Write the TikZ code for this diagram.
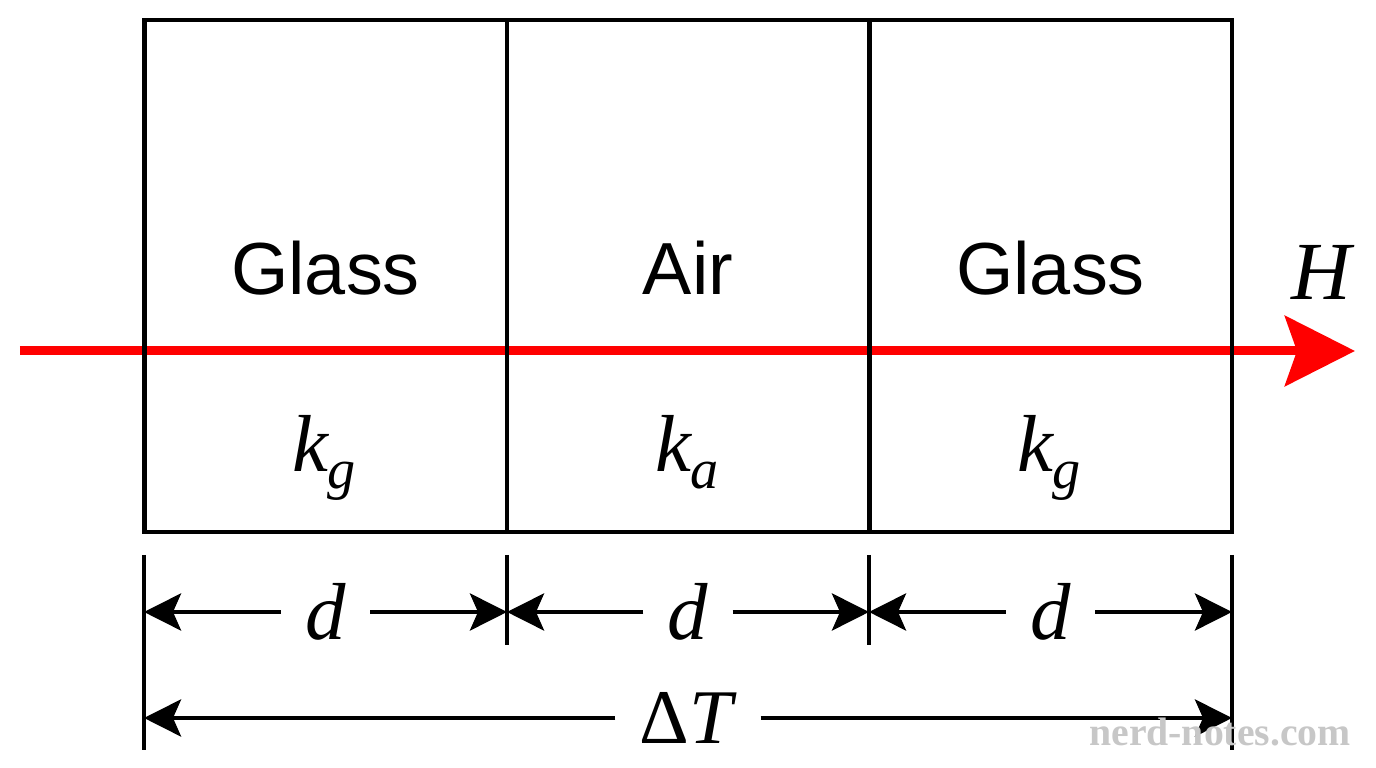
\documentclass[tikz,border=0pt]{standalone}
\usepackage{fontspec}
\setmainfont{Liberation Sans}
\newfontfamily\tnr{Liberation Serif}
\usetikzlibrary{arrows.meta}
\tikzset{
  cell/.style={rectangle,draw,line width=0.045cm,minimum width=3.625cm,minimum height=5.12cm,inner sep=0pt},
  matlabel/.style={anchor=base,inner sep=0pt,font=\fontsize{21}{24}\selectfont},
  varlabel/.style={anchor=base,inner sep=0pt,font=\tnr\itshape\fontsize{23}{26}\selectfont},
  dimlabel/.style={inner sep=0pt,minimum width=0.88cm,font=\tnr\itshape\fontsize{23}{26}\selectfont},
  tick/.style={line width=0.045cm},
  dim/.style={line width=0.045cm,-{Stealth[length=0.37cm,width=0.37cm,inset=0.08cm]}},
  heat/.style={red,line width=0.09cm,-{Stealth[length=0.70cm,width=0.70cm,inset=0.12cm]}},
  wmtext/.style={inner sep=0pt,text=black!22,font=\tnr\bfseries\fontsize{11.3}{13}\selectfont}
}
\newcommand{\subg}[1]{\raisebox{-4.6pt}{\fontsize{16}{16}\selectfont #1}}
\begin{document}
\begin{tikzpicture}
    \useasboundingbox (0,0) rectangle (13.76,7.68);

    % heat flow
    \coordinate (hin) at (0.20,4.17);
    \coordinate (hout) at (13.55,4.17);
    \draw[heat] (hin)--(hout);
    \node at (13.21,4.68) [varlabel,font=\tnr\itshape\fontsize{23.5}{26}\selectfont] (hlab) {H};

    % the three layers
    \node at (3.255,4.92) [cell] (c100) {};
    \node at (6.88,4.92) [cell] (c200) {};
    \node at (10.505,4.92) [cell] (c300) {};

    \node at (3.255,4.73) [matlabel] (m100) {Glass};
    \node at (6.88,4.73) [matlabel] (m200) {Air};
    \node at (10.505,4.73) [matlabel] (m300) {Glass};

    \node at (3.24,2.96) [varlabel] (k100) {k\subg{g}};
    \node at (6.87,2.96) [varlabel] (k200) {k\subg{a}};
    \node at (10.49,2.96) [varlabel] (k300) {k\subg{g}};

    % dimension ticks
    \coordinate (t100) at (1.44,2.13);
    \coordinate (t200) at (5.07,2.13);
    \coordinate (t300) at (8.69,2.13);
    \coordinate (t400) at (12.32,2.13);
    \coordinate (b100) at (1.44,0.18);
    \coordinate (b200) at (5.07,1.23);
    \coordinate (b300) at (8.69,1.23);
    \coordinate (b400) at (12.32,0.18);
    \draw[tick] (t100)--(b100);
    \draw[tick] (t200)--(b200);
    \draw[tick] (t300)--(b300);
    \draw[tick] (t400)--(b400);

    % thickness of each layer
    \coordinate (a100) at (1.44,1.56);
    \coordinate (a200) at (5.07,1.56);
    \coordinate (a300) at (8.69,1.56);
    \coordinate (a400) at (12.32,1.56);
    \node at (3.255,1.56) [dimlabel] (d100) {d};
    \node at (6.88,1.56) [dimlabel] (d200) {d};
    \node at (10.505,1.56) [dimlabel] (d300) {d};
    \draw[dim] (d100)--(a100);
    \draw[dim] (d100)--(a200);
    \draw[dim] (d200)--(a200);
    \draw[dim] (d200)--(a300);
    \draw[dim] (d300)--(a300);
    \draw[dim] (d300)--(a400);

    % temperature difference
    \coordinate (e100) at (1.44,0.50);
    \coordinate (e400) at (12.32,0.50);
    \node at (6.88,0.50) [dimlabel,minimum width=1.44cm,font=\tnr\fontsize{22}{26}\selectfont] (dT) {Δ\textit{T}};
    \draw[dim] (dT)--(e100);
    \draw[dim] (dT)--(e400);

    \node at (12.20,0.36) [wmtext] (wm) {nerd-notes.com};
\end{tikzpicture}
\end{document}
